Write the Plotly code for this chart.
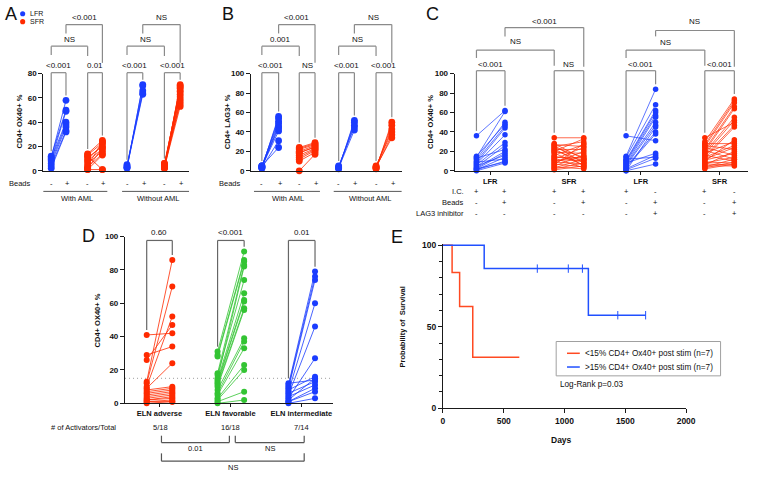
import plotly.graph_objects as go

# ------------------------- DATA -------------------------
# Panel A: CD4+ OX40+ %  (beads -, beads +)
a_lfr_aml_pre = [11, 12, 9, 10, 8, 6, 4, 2]
a_lfr_aml_post = [58, 50, 49, 40, 38, 36, 33, 32]
a_sfr_aml_pre = [14, 13, 12, 11, 9, 8, 6, 4, 3, 2, 1, 1]
a_sfr_aml_post = [25, 23, 1, 20, 22, 18, 16, 24, 14, 19, 13, 1]
a_lfr_noaml_pre = [2, 3, 4, 5, 3]
a_lfr_noaml_post = [71, 70, 66, 64, 63]
a_sfr_noaml_pre = [2, 3, 4, 5, 6, 4, 3, 5, 2, 4, 6, 3]
a_sfr_noaml_post = [71, 70, 69, 68, 66, 65, 63, 61, 59, 57, 55, 53]
a_pvals_pairs = ["<0.001", "0.01", "<0.001", "<0.001"]
a_pvals_between = ["NS", "<0.001", "NS", "NS"]

# Panel B: CD4+ LAG3+ %
b_lfr_aml_pre = [3, 4, 5, 3, 4, 5, 4, 3, 5]
b_lfr_aml_post = [56, 54, 51, 49, 46, 44, 41, 31, 24]
b_sfr_aml_pre = [24, 23, 22, 20, 18, 16, 14, 12, 10, 19, 0]
b_sfr_aml_post = [29, 28, 27, 26, 25, 23, 22, 21, 19, 24, 17]
b_lfr_noaml_pre = [2, 3, 4, 5, 3]
b_lfr_noaml_post = [52, 50, 47, 45, 42]
b_sfr_noaml_pre = [2, 3, 4, 5, 3, 4]
b_sfr_noaml_post = [50, 47, 43, 40, 37, 34]
b_pvals_pairs = ["<0.001", "NS", "<0.001", "<0.001"]
b_pvals_between = ["0.001", "<0.001", "NS", "NS"]

# Panel C: CD4+ OX40+ %  (I.C. / beads / LAG3 inhibitor)
c_lfr_pre = [36, 15, 14, 13, 12, 10, 9, 8, 7, 6, 5, 4, 3, 2, 2, 1, 1, 0]
c_lfr_post = [62, 48, 61, 22, 50, 46, 12, 44, 37, 29, 16, 26, 20, 18, 9, 14, 10, 8]
c_sfr_pre = [34, 28, 27, 26, 25, 24, 23, 22, 21, 20, 19, 18, 16, 15, 14, 13,
             12, 11, 10, 9, 8, 7, 6, 5, 4, 3, 2, 1]
c_sfr_post = [34, 12, 25, 8, 30, 14, 5, 22, 10, 33, 18, 6, 27, 9, 13, 3,
              24, 11, 15, 7, 20, 4, 28, 16, 2, 12, 8, 5]
c_lfr_lag3_pre = [36, 15, 14, 12, 11, 10, 9, 8, 7, 6, 5, 4, 3, 2, 1, 0, 0]
c_lfr_lag3_post = [31, 84, 68, 14, 62, 60, 57, 18, 55, 50, 47, 40, 38, 16, 13, 7, 45]
c_sfr_lag3_pre = [34, 30, 28, 27, 26, 25, 24, 22, 21, 20, 19, 18, 17, 16, 15, 14,
                  13, 12, 11, 10, 9, 8, 7, 6, 5, 4, 3, 2]
c_sfr_lag3_post = [50, 74, 28, 72, 22, 70, 16, 66, 12, 64, 55, 30, 52, 10, 47, 26,
                   45, 24, 18, 32, 8, 14, 6, 20, 5, 12, 9, 7]
c_groups = ["LFR", "SFR", "LFR", "SFR"]
c_ic = ["+", "+", "+", "+", "+", "-", "+", "-"]
c_beads = ["-", "+", "-", "+", "-", "+", "-", "+"]
c_lag3 = ["-", "-", "-", "-", "-", "+", "-", "+"]
c_pvals_pairs = ["<0.001", "NS", "<0.001", "<0.001"]
c_pvals_between = ["NS", "<0.001", "NS", "NS"]

# Panel D: by ELN risk
d_adv_pre = [41, 29, 26, 13, 12, 10, 9, 8, 7, 6, 5, 4, 3, 2, 2, 1, 1, 0]
d_adv_post = [42, 34, 47, 86, 70, 52, 24, 10, 9, 8, 7, 6, 5, 4, 3, 2, 1, 1]
d_fav_pre = [31, 29, 28, 18, 17, 15, 14, 13, 12, 11, 10, 8, 6, 5, 3, 2, 1, 0]
d_fav_post = [91, 86, 85, 83, 74, 82, 66, 62, 61, 57, 56, 39, 37, 33, 23, 20, 7, 2]
d_int_pre = [12, 11, 10, 9, 8, 7, 6, 5, 4, 3, 2, 1, 1, 0]
d_int_post = [14, 79, 76, 74, 16, 60, 13, 46, 11, 27, 15, 9, 7, 3]
d_categories = ["ELN adverse", "ELN favorable", "ELN intermediate"]
d_activators = ["5/18", "16/18", "7/14"]
d_pvals = ["0.60", "<0.001", "0.01"]
d_threshold = 15
d_between = ["0.01", "NS", "NS"]

# Panel E: Kaplan-Meier
e_low_days = [0, 75, 137, 245, 628]
e_low_surv = [100, 83.3, 62.5, 31.25, 31.25]
e_high_days = [0, 339, 1196, 1667]
e_high_surv = [100, 85.7, 57.1, 57.1]
e_high_cens_days = [776, 1031, 1147, 1438, 1667]
e_high_cens_surv = [85.7, 85.7, 85.7, 57.1, 57.1]
e_names = ["<15% CD4+ Ox40+ post stim (n=7)", ">15% CD4+ Ox40+ post stim (n=7)"]

# ------------------------- STYLE / LAYOUT -------------------------
W, H = 766, 477
BLUE = "#1a3cff"
RED = "#ff2a00"
GREEN = "#33c433"
GRAY = "#8a8a8a"
AXC = "#1a1a1a"
FONT = "Liberation Sans, Arial, sans-serif"

fig = go.Figure()
shapes = []
annots = []


def fx(px):
    return px / W


def fy(py):
    return 1 - py / H


def text(x, y, s, size=8, bold=False, xanchor="center", color="#111", angle=0):
    annots.append(dict(x=fx(x), y=fy(y), xref="paper", yref="paper", text=s,
                       showarrow=False, xanchor=xanchor, yanchor="middle",
                       textangle=angle, borderpad=0,
                       font=dict(family=FONT, size=size, color=color,
                                 weight="bold" if bold else "normal")))


def seg(x0, y0, x1, y1, color=GRAY, w=1.2, dash=None):
    shapes.append(dict(type="line", xref="paper", yref="paper",
                       x0=fx(x0), y0=fy(y0), x1=fx(x1), y1=fy(y1),
                       line=dict(color=color, width=w, dash=dash)))


# panel geometry (pixels)
P = {
    "A": dict(ax="", x0=42, x1=190, ytop=71, ybot=170, ymax=80,
              pos=[8, 23, 45, 60, 85, 101, 123, 139]),
    "B": dict(ax="2", x0=253, x1=406, ytop=71, ybot=170, ymax=100,
              pos=[11, 28, 49, 65, 89, 105, 127, 143]),
    "C": dict(ax="3", x0=460, x1=758, ytop=71, ybot=170, ymax=100,
              pos=[22, 51, 101, 131, 174, 204, 254, 284]),
    "D": dict(ax="4", x0=125, x1=336, ytop=237, ybot=407, ymax=100,
              pos=[22, 48, 94, 121, 166, 193]),
}


def xpx(p, xv):
    return P[p]["x0"] + xv


def ypx(p, v):
    g = P[p]
    return g["ybot"] - v * (g["ybot"] - g["ytop"]) / g["ymax"]


def pairs(p, i, pre, post, color, msize, lw=0.8):
    g = P[p]
    xa, xb = g["pos"][i], g["pos"][i + 1]
    xs, ys = [], []
    for a, b in zip(pre, post):
        xs += [xa, xb, None]
        ys += [a, b, None]
    fig.add_trace(go.Scatter(x=xs, y=ys, mode="lines+markers",
                             line=dict(color=color, width=lw),
                             marker=dict(color=color, size=msize),
                             xaxis="x" + g["ax"], yaxis="y" + g["ax"],
                             showlegend=False, cliponaxis=False, hoverinfo="skip"))


def bracket(xl, xr, ytop, ylb, yrb, label, ty, size=8, color=GRAY):
    seg(xl, ylb, xl, ytop, color)
    seg(xl, ytop, xr, ytop, color)
    seg(xr, ytop, xr, yrb, color)
    text((xl + xr) / 2, ty, label, size)


def pair_bracket(p, i, pre, post, label, ytop, ty, color=GRAY):
    g = P[p]
    xl = xpx(p, g["pos"][i])
    xr = xpx(p, g["pos"][i + 1])
    bracket(xl, xr, ytop, ypx(p, max(pre)) - 5, ypx(p, max(post)) - 5, label, ty, color=color)


# ---------------- Panel A ----------------
pairs("A", 0, a_lfr_aml_pre, a_lfr_aml_post, BLUE, 6.8)
pairs("A", 2, a_sfr_aml_pre, a_sfr_aml_post, RED, 6.8)
pairs("A", 4, a_lfr_noaml_pre, a_lfr_noaml_post, BLUE, 6.8)
pairs("A", 6, a_sfr_noaml_pre, a_sfr_noaml_post, RED, 6.8)

# ---------------- Panel B ----------------
pairs("B", 0, b_lfr_aml_pre, b_lfr_aml_post, BLUE, 6.8)
pairs("B", 2, b_sfr_aml_pre, b_sfr_aml_post, RED, 6.8)
pairs("B", 4, b_lfr_noaml_pre, b_lfr_noaml_post, BLUE, 6.8)
pairs("B", 6, b_sfr_noaml_pre, b_sfr_noaml_post, RED, 6.8)

for p, groups, pp, pb in [
    ("A", [(a_lfr_aml_pre, a_lfr_aml_post), (a_sfr_aml_pre, a_sfr_aml_post),
           (a_lfr_noaml_pre, a_lfr_noaml_post), (a_sfr_noaml_pre, a_sfr_noaml_post)],
     a_pvals_pairs, a_pvals_between),
    ("B", [(b_lfr_aml_pre, b_lfr_aml_post), (b_sfr_aml_pre, b_sfr_aml_post),
           (b_lfr_noaml_pre, b_lfr_noaml_post), (b_sfr_noaml_pre, b_sfr_noaml_post)],
     b_pvals_pairs, b_pvals_between),
]:
    g = P[p]
    X = [xpx(p, v) for v in g["pos"]]
    for k, (pre, post) in enumerate(groups):
        pair_bracket(p, 2 * k, pre, post, pp[k], 70, 63)
    # between-group brackets
    bracket(X[0], X[2], 43, 52, 53, pb[0], 36)
    bracket(X[1], X[3], 21, 30, 60, pb[1], 14)
    bracket(X[4], X[6], 43, 52, 53, pb[2], 36)
    bracket(X[5], X[7], 21, 30, 60, pb[3], 14)
    # row labels
    signs = ["-", "+"] * 4
    for k, s in enumerate(signs):
        text(X[k] + (1.5 if s == "+" else 0), 183, s, 7.5)
    # group lines
    seg(X[0] - 8, 191, X[3] + 5, 191, "#444", 0.9)
    text((X[0] + X[3]) / 2, 198, "With AML", 7.5)
    seg(X[4] - 5, 191, g["x1"], 191, "#444", 0.9)
    text((X[4] + g["x1"]) / 2, 198, "Without AML", 7.5)

text(18, 183, "Beads", 7.5)
text(232, 183, "Beads", 7.5)

# ---------------- Panel C ----------------
pairs("C", 0, c_lfr_pre, c_lfr_post, BLUE, 5.5, 0.7)
pairs("C", 2, c_sfr_pre, c_sfr_post, RED, 5.5, 0.7)
pairs("C", 4, c_lfr_lag3_pre, c_lfr_lag3_post, BLUE, 5.5, 0.7)
pairs("C", 6, c_sfr_lag3_pre, c_sfr_lag3_post, RED, 5.5, 0.7)
XC = [xpx("C", v) for v in P["C"]["pos"]]
for k, (pre, post) in enumerate([(c_lfr_pre, c_lfr_post), (c_sfr_pre, c_sfr_post),
                                 (c_lfr_lag3_pre, c_lfr_lag3_post),
                                 (c_sfr_lag3_pre, c_sfr_lag3_post)]):
    pair_bracket("C", 2 * k, pre, post, c_pvals_pairs[k], 68, 62)
bracket(XC[0], XC[2], 47, 55, 63, c_pvals_between[0], 38)
bracket(XC[1], XC[3], 24, 33, 64, c_pvals_between[1], 18)
bracket(XC[4], XC[6], 47, 55, 63, c_pvals_between[2], 39)
bracket(XC[5], XC[7], 27, 33, 64, c_pvals_between[3], 18)
for k in range(8):
    text(XC[k], 191, c_ic[k], 7.5)
    text(XC[k], 202, c_beads[k], 7.5)
    text(XC[k], 214, c_lag3[k], 7.5)
text(470, 191, "I.C.", 7.5, xanchor="right")
text(470, 202, "Beads", 7.5, xanchor="right")
text(470, 214, "LAG3 inhibitor", 7.5, xanchor="right")

# ---------------- Panel D ----------------
pairs("D", 0, d_adv_pre, d_adv_post, RED, 6, 0.8)
pairs("D", 2, d_fav_pre, d_fav_post, GREEN, 6, 0.8)
pairs("D", 4, d_int_pre, d_int_post, BLUE, 6, 0.8)
for k, (pre, post) in enumerate([(d_adv_pre, d_adv_post), (d_fav_pre, d_fav_post),
                                 (d_int_pre, d_int_post)]):
    pair_bracket("D", 2 * k, pre, post, d_pvals[k], 241, 233, color="#666")
shapes.append(dict(type="line", xref="x4", yref="y4", x0=0, x1=P["D"]["x1"] - P["D"]["x0"],
                   y0=d_threshold, y1=d_threshold, layer="below",
                   line=dict(color="#9a9a9a", width=1, dash="1px,3px")))
XD_c = [161, 232, 304]
text(83, 432, "# of Activators/Total", 7.5)
for k in range(3):
    text(XD_c[k], 432, d_activators[k], 7.5)
# bottom brackets (inverted)
for (xl, xr, yb, yt, lab, ty) in [(162, 231, 447, 440, d_between[0], 453),
                                  (237, 307, 447, 440, d_between[1], 453),
                                  (162, 307, 466, 458, d_between[2], 472)]:
    seg(xl, yt, xl, yb, "#555")
    seg(xl, yb, xr, yb, "#555")
    seg(xr, yb, xr, yt, "#555")
    text((xl + xr) / 2, ty, lab, 7.5)
text(97, 322, "CD4+ OX40+ %", 7.5, bold=True, angle=-90)

# ---------------- Panel E ----------------
fig.add_trace(go.Scatter(x=e_low_days, y=e_low_surv, mode="lines", line_shape="hv",
                         line=dict(color="#ff4a22", width=1.5), xaxis="x5", yaxis="y5",
                         showlegend=False, cliponaxis=False, hoverinfo="skip"))
fig.add_trace(go.Scatter(x=e_high_days, y=e_high_surv, mode="lines", line_shape="hv",
                         line=dict(color="#2050ff", width=1.5), xaxis="x5", yaxis="y5",
                         showlegend=False, cliponaxis=False, hoverinfo="skip"))
fig.add_trace(go.Scatter(x=e_high_cens_days, y=e_high_cens_surv, mode="markers",
                         marker=dict(symbol="line-ns", size=6,
                                     line=dict(color="#2050ff", width=1)),
                         xaxis="x5", yaxis="y5", showlegend=False, cliponaxis=False,
                         hoverinfo="skip"))
# legend box
shapes.append(dict(type="rect", xref="paper", yref="paper", x0=fx(563), x1=fx(730),
                   y0=fy(379), y1=fy(344), line=dict(color="#a0a0a0", width=1)))
seg(574, 356, 587, 356, "#ff4a22", 1.5)
seg(574, 370, 587, 370, "#2050ff", 1.5)
text(591, 356, e_names[0], 8.2, xanchor="left")
text(591, 370, e_names[1], 8.2, xanchor="left")
text(566, 388, "Log-Rank p=0.03", 8.2, xanchor="left")
text(568, 444, "Days", 8.5, bold=True)
text(407, 329, "Probability of  Survival", 7.5, bold=True, angle=-90)

# ---------------- titles / legend / letters ----------------
text(18, 120, "CD4+ OX40+ %", 7.5, bold=True, angle=-90)
text(229, 120, "CD4+ LAG3+ %", 7.5, bold=True, angle=-90)
text(436, 120, "CD4+ OX40+ %", 7.5, bold=True, angle=-90)
for (cx, cy, col, lab) in [(21, 10, BLUE, "LFR"), (21, 18, RED, "SFR")]:
    shapes.append(dict(type="circle", xref="paper", yref="paper",
                       x0=fx(cx - 2.6), x1=fx(cx + 2.6), y0=fy(cy + 2.6), y1=fy(cy - 2.6),
                       fillcolor=col, line=dict(width=0)))
    text(27, cy, lab, 7, xanchor="left")
for (lx, ly, L) in [(9, 10, "A"), (230, 10, "B"), (437, 10, "C"), (88, 236, "D"), (401, 237, "E")]:
    text(lx, ly, L, 18)

# ---------------- axes ----------------
def xaxis(p, tickvals=None, ticktext=None):
    g = P[p]
    d = dict(domain=[fx(g["x0"]), fx(g["x1"])], range=[0, g["x1"] - g["x0"]],
             showline=True, linecolor=AXC, linewidth=1.2, showgrid=False,
             zeroline=False, anchor="y" + g["ax"], fixedrange=True)
    if tickvals:
        d.update(tickmode="array", tickvals=tickvals, ticktext=ticktext,
                 ticks="outside", ticklen=3, tickwidth=1, tickcolor=AXC,
                 tickfont=dict(family=FONT, size=7.5, color="#111", weight="bold"))
    else:
        d.update(showticklabels=False, ticks="")
    return d


def yaxis(p):
    g = P[p]
    return dict(domain=[fy(g["ybot"]), fy(g["ytop"])], range=[0, g["ymax"]], dtick=20,
                showline=True, linecolor=AXC, linewidth=1.2, showgrid=False,
                zeroline=False, ticks="outside", ticklen=4, tickwidth=1.2, tickcolor=AXC,
                anchor="x" + g["ax"], fixedrange=True,
                tickfont=dict(family=FONT, size=8, color="#111", weight="bold"))


fig.update_layout(
    width=W, height=H, margin=dict(l=0, r=0, t=0, b=0),
    paper_bgcolor="white", plot_bgcolor="white", showlegend=False,
    font=dict(family=FONT, color="#111"),
    xaxis=xaxis("A"), yaxis=yaxis("A"),
    xaxis2=xaxis("B"), yaxis2=yaxis("B"),
    xaxis3=xaxis("C", [36, 116, 189, 269], c_groups), yaxis3=yaxis("C"),
    xaxis4=xaxis("D", [35, 107, 179], d_categories), yaxis4=yaxis("D"),
    xaxis5=dict(domain=[fx(448), fx(695)], range=[0, 2000], dtick=500, showline=True,
                linecolor=AXC, linewidth=1.2, showgrid=False, zeroline=False,
                ticks="outside", ticklen=4, tickwidth=1.2, tickcolor=AXC, anchor="y5",
                fixedrange=True,
                tickfont=dict(family=FONT, size=8.5, color="#111", weight="bold")),
    yaxis5=dict(domain=[fy(412), fy(244.3)], range=[0, 101], tickvals=[0, 50, 100],
                showline=True, linecolor=AXC, linewidth=1.2, showgrid=False,
                zeroline=False, ticks="outside", ticklen=4, tickwidth=1.2, tickcolor=AXC,
                anchor="x5", fixedrange=True,
                minor=dict(dtick=10, ticks="outside", ticklen=2.5, tickcolor=AXC),
                tickfont=dict(family=FONT, size=8.5, color="#111", weight="bold")),
    shapes=shapes, annotations=annots,
)

fig.write_html("out.html", config={"displayModeBar": False},
               post_script="document.body.style.margin='0';document.body.style.overflow='hidden';")
